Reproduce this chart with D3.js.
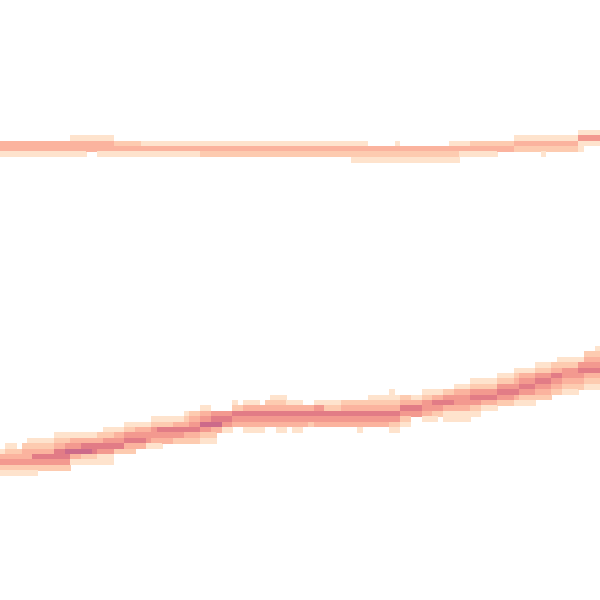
<!DOCTYPE html>
<html>
<head>
<meta charset="utf-8">
<script src="https://cdn.jsdelivr.net/npm/d3@7"></script>
<style>
  html, body { margin: 0; padding: 0; background: #ffffff; }
  svg { display: block; }
</style>
</head>
<body>
<div id="chart"></div>
<script>
// ---- data: density grid (bins) ----
const binCount = 111;                       // x and y bins
const levels = [1, 2, 3, 4, 5, 6];          // density levels
const levelColors = ["#fee3cd", "#fdcbb0", "#fbb39e", "#f3998f", "#e27c86", "#cc6a8a"];

// segments: [firstCol, lastCol, firstRow, levels top->bottom ('0' = empty)]
const bandA = [
  [0, 12, 26, "331"],
  [13, 15, 25, "1331"],
  [16, 17, 25, "133"],
  [18, 20, 25, "1331"],
  [21, 25, 26, "231"],
  [26, 36, 26, "131"],
  [37, 64, 26, "132"],
  [65, 67, 26, "1321"],
  [68, 72, 27, "321"],
  [73, 73, 26, "1321"],
  [74, 82, 27, "321"],
  [83, 84, 26, "1321"],
  [85, 86, 26, "131"],
  [87, 91, 26, "231"],
  [92, 94, 26, "23"],
  [95, 99, 25, "132"],
  [100, 100, 25, "1321"],
  [101, 106, 25, "132"],
  [107, 107, 24, "1411"],
  [108, 110, 24, "141"]
];

const bandB = [
  [0, 0, 83, "13421"],
  [1, 2, 82, "123421"],
  [3, 3, 83, "23421"],
  [4, 4, 82, "233421"],
  [5, 5, 81, "1233421"],
  [6, 6, 81, "1235421"],
  [7, 9, 81, "123542"],
  [10, 11, 80, "1235542"],
  [12, 12, 80, "1246542"],
  [13, 14, 80, "134631"],
  [15, 16, 80, "135621"],
  [17, 17, 80, "135521"],
  [18, 18, 80, "235411"],
  [19, 20, 79, "1245411"],
  [21, 22, 79, "13452"],
  [23, 24, 78, "124532"],
  [25, 26, 78, "13453"],
  [27, 27, 78, "13441"],
  [28, 28, 77, "124431"],
  [29, 29, 77, "125431"],
  [30, 31, 77, "12543"],
  [32, 33, 77, "13542"],
  [34, 34, 76, "123532"],
  [35, 36, 76, "234532"],
  [37, 38, 75, "1346421"],
  [39, 39, 76, "456321"],
  [40, 40, 76, "4563"],
  [41, 42, 76, "4541"],
  [43, 43, 74, "12543"],
  [44, 44, 75, "2543"],
  [45, 47, 74, "135431"],
  [48, 48, 75, "35431"],
  [49, 49, 74, "23543"],
  [50, 50, 73, "123543"],
  [51, 52, 73, "1235431"],
  [53, 53, 74, "13543"],
  [54, 55, 74, "135431"],
  [56, 56, 75, "3543"],
  [57, 57, 75, "3542"],
  [58, 59, 74, "14543"],
  [60, 62, 74, "12543"],
  [63, 65, 74, "23543"],
  [66, 66, 74, "235431"],
  [67, 67, 74, "23543"],
  [68, 71, 73, "123543"],
  [72, 72, 72, "11235421"],
  [73, 73, 73, "1235421"],
  [74, 75, 73, "235421"],
  [76, 77, 73, "1354"],
  [78, 79, 72, "124431"],
  [80, 80, 72, "135421"],
  [81, 81, 72, "13542"],
  [82, 83, 72, "245311"],
  [84, 86, 71, "1344311"],
  [87, 88, 70, "1245421"],
  [89, 91, 70, "124531"],
  [92, 94, 69, "124542"],
  [95, 95, 68, "1234531"],
  [96, 98, 68, "1345421"],
  [99, 101, 67, "1245432"],
  [102, 102, 67, "235432"],
  [103, 103, 66, "1235432"],
  [104, 106, 66, "1244321"],
  [107, 107, 66, "145432"],
  [108, 109, 65, "2345321"],
  [110, 110, 64, "12345321"]
];

// ---- build cells ----
function toCells(segments) {
  const out = [];
  segments.forEach(([c0, c1, r0, lv]) => {
    for (let c = c0; c <= c1; c++) {
      for (let i = 0; i < lv.length; i++) {
        const v = +lv[i];
        if (v > 0) out.push({ col: c, row: r0 + i, level: v });
      }
    }
  });
  return out;
}
const cells = toCells(bandA).concat(toCells(bandB));

// ---- chart ----
const width = 600, height = 600;
const svg = d3.select("#chart").append("svg")
  .attr("width", width).attr("height", height);

const bins = d3.range(binCount);
const x = d3.scaleBand().domain(bins).range([0, width]).padding(0);
const y = d3.scaleBand().domain(bins).range([0, height]).padding(0);
const color = d3.scaleOrdinal().domain(levels).range(levelColors);

svg.append("g")
  .attr("shape-rendering", "crispEdges")
  .selectAll("rect")
  .data(cells)
  .join("rect")
  .attr("x", d => x(d.col))
  .attr("y", d => y(d.row))
  .attr("width", x.bandwidth() + 0.4)
  .attr("height", y.bandwidth() + 0.4)
  .attr("fill", d => color(d.level));
</script>
</body>
</html>
